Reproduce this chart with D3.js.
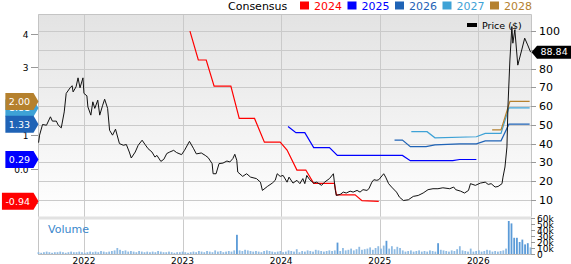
<!DOCTYPE html>
<html>
<head>
<meta charset="utf-8">
<script src="https://cdn.jsdelivr.net/npm/d3@7"></script>
<style>
  body { margin: 0; background: #fff; }
  svg { display: block; font-family: "DejaVu Sans", Verdana, sans-serif; }
</style>
</head>
<body>
<svg id="chart" width="571" height="264"></svg>
<script>
// price, [decimal year, $]
var price = [
  [2021.54,40.5],[2021.55,44.5],[2021.58,50.2],[2021.62,49.8],[2021.66,54.3],[2021.68,52.0],[2021.72,52.0],[2021.74,49.8],
  [2021.77,48.4],[2021.80,56.9],[2021.82,66.8],[2021.86,69.8],[2021.88,70.9],[2021.89,67.6],[2021.92,70.3],[2021.94,75.1],
  [2021.96,69.8],[2021.99,75.1],[2022.00,66.8],[2022.03,65.5],[2022.04,59.6],[2022.07,55.2],[2022.09,62.3],[2022.11,58.8],
  [2022.14,63.2],[2022.16,55.2],[2022.19,60.5],[2022.21,63.7],[2022.24,58.8],[2022.26,47.1],[2022.29,44.5],[2022.32,47.7],
  [2022.36,40.0],[2022.40,39.1],[2022.43,39.5],[2022.46,35.5],[2022.48,32.3],[2022.52,35.5],[2022.55,39.1],[2022.59,41.8],
  [2022.62,39.5],[2022.65,37.3],[2022.69,35.5],[2022.72,32.8],[2022.74,33.7],[2022.78,30.5],[2022.81,31.6],[2022.84,34.7],
  [2022.87,35.5],[2022.91,36.4],[2022.94,35.2],[2022.99,34.1],[2023.02,36.4],[2023.07,41.2],[2023.11,37.5],[2023.14,34.5],
  [2023.19,35.0],[2023.23,33.7],[2023.26,32.5],[2023.30,29.3],[2023.31,23.9],[2023.34,23.9],[2023.37,29.3],[2023.41,29.6],
  [2023.45,30.7],[2023.48,30.2],[2023.51,32.0],[2023.53,34.3],[2023.55,31.1],[2023.56,24.8],[2023.61,22.5],[2023.65,23.9],
  [2023.69,22.1],[2023.75,21.3],[2023.79,19.4],[2023.81,15.0],[2023.86,17.1],[2023.91,18.9],[2023.94,20.4],[2023.96,23.9],
  [2023.99,22.5],[2024.02,23.0],[2024.06,19.4],[2024.08,22.1],[2024.12,18.9],[2024.16,20.4],[2024.19,18.6],[2024.22,21.3],
  [2024.24,18.6],[2024.26,23.0],[2024.29,20.7],[2024.33,18.9],[2024.36,19.4],[2024.41,17.7],[2024.44,19.4],[2024.49,21.3],
  [2024.53,23.9],[2024.55,15.0],[2024.56,12.3],[2024.60,12.9],[2024.63,14.1],[2024.66,13.6],[2024.70,14.6],[2024.73,14.1],
  [2024.77,15.0],[2024.80,14.1],[2024.83,15.4],[2024.87,15.0],[2024.89,15.9],[2024.92,19.4],[2024.94,20.7],[2024.97,20.4],
  [2024.99,20.7],[2025.04,23.9],[2025.06,22.1],[2025.09,18.6],[2025.12,16.8],[2025.17,14.1],[2025.20,11.4],[2025.24,9.6],
  [2025.29,10.0],[2025.34,11.8],[2025.39,12.3],[2025.44,13.6],[2025.49,15.4],[2025.54,15.9],[2025.59,15.9],[2025.64,16.4],
  [2025.71,15.9],[2025.75,16.8],[2025.77,15.4],[2025.82,14.6],[2025.86,13.6],[2025.90,15.0],[2025.92,18.6],[2025.97,17.7],
  [2026.02,18.9],[2026.07,19.4],[2026.10,18.2],[2026.13,18.6],[2026.17,16.8],[2026.20,17.1],[2026.24,18.6],[2026.25,22.1],
  [2026.27,27.5],[2026.29,38.2],[2026.30,59.6],[2026.32,84.6],[2026.34,102.5],[2026.35,93.6],[2026.37,100.7],[2026.40,81.9],
  [2026.44,90.0],[2026.47,96.3],[2026.50,92.7],[2026.53,88.84]
];

// consensus EPS per fiscal year, [decimal year, eps]
var eps2024 = [[2023.075,4.07],[2023.16,3.22],[2023.24,3.22],[2023.32,2.45],[2023.49,2.45],[2023.575,1.50],[2023.73,1.50],
  [2023.83,0.80],[2023.99,0.80],[2024.06,0.57],[2024.16,-0.02],[2024.25,-0.02],[2024.33,-0.41],[2024.54,-0.41],
  [2024.56,-0.75],[2024.75,-0.75],[2024.82,-0.92],[2024.99,-0.94]];
var eps2025 = [[2024.07,1.26],[2024.15,1.08],[2024.24,1.08],[2024.33,0.64],[2024.49,0.64],[2024.57,0.41],[2025.23,0.41],
  [2025.31,0.255],[2025.74,0.255],[2025.81,0.29],[2025.98,0.29]];
var eps2026 = [[2025.15,0.86],[2025.23,0.86],[2025.31,0.67],[2025.47,0.67],[2025.56,0.72],[2025.81,0.75],[2025.98,0.75],
  [2026.07,0.84],[2026.23,0.84],[2026.31,1.33],[2026.52,1.33]];
var eps2027 = [[2025.32,1.11],[2025.48,1.11],[2025.56,0.93],[2025.98,0.96],[2026.07,1.06],[2026.23,1.06],[2026.31,1.81],[2026.52,1.81]];
var eps2028 = [[2026.14,1.16],[2026.23,1.16],[2026.32,2.00],[2026.52,2.00]];

var seriesYears = ["2024", "2025", "2026", "2027", "2028"];
var lastEps = { "2024": -0.94, "2025": 0.29, "2026": 1.33, "2027": 1.81, "2028": 2.00 };
var lastPrice = 88.84;

// volume (thousands), evenly spaced bars from volStart to volEnd
var volStart = 2021.54, volEnd = 2026.53;
var volume = [
  3,2,3,4,3,2,3,3,4,3, 2,3,4,3,3,4,3,2,3,4, 3,4,3,5,4,3,4,5,6,10, 7,5,6,4,5,4,3,5,4,3,
  4,3,4,3,5,4,3,3,4,3, 2,3,3,4,3,2,3,4,3,5, 4,3,5,4,3,6,4,5,3,4, 5,4,6,32,6,5,7,6,5,4,
  5,4,3,5,6,5,4,3,4,5, 3,4,6,5,4,8,3,5,4,6, 5,4,7,6,5,4,5,6,5,6, 19,5,10,6,7,9,6,8,12,7,
  8,9,11,7,10,13,9,14,22,9, 13,8,12,10,6,4,5,6,4,5, 6,4,5,4,6,5,4,18,7,6, 5,4,6,5,8,13,6,5,4,9,
  4,5,6,4,5,7,6,4,5,4, 5,6,9,55,51,27,27,20,24,16,18,11
];

var yearTicks = [2022, 2023, 2024, 2025, 2026];
var priceTicks = [10, 20, 30, 40, 50, 60, 70, 80, 90, 100];
var epsTicks = [4, 3, 2, 1, 0, -1];
var epsTickLabels = ["4", "3", "2", "1", "0.0", "-1"];
var volTicks = [0, 10, 20, 30, 40, 50, 60];

var colors = { "2024": "#ff0000", "2025": "#0000ff", "2026": "#1f63b6", "2027": "#3ea2d6", "2028": "#b5812e" };
var epsData = { "2024": eps2024, "2025": eps2025, "2026": eps2026, "2027": eps2027, "2028": eps2028 };

var L = 38, R = 531, T = 14, B = 218.5, VB = 254;

var x = d3.scaleLinear().domain([2021.534, 2026.534]).range([L, R]);
var yP = d3.scaleLinear().domain([0, 109.2]).range([B, T]);
var yE = d3.scaleLinear().domain([-0.94, 4]).range([201.3, 33.5]);
var yV = d3.scaleLinear().domain([0, 60]).range([VB, 218]);

var svg = d3.select("#chart");

var defs = svg.append("defs");
var grad = defs.append("linearGradient").attr("id", "bg").attr("x1", 0).attr("y1", 0).attr("x2", 0).attr("y2", 1);
grad.append("stop").attr("offset", "0%").attr("stop-color", "#e3e3e3");
grad.append("stop").attr("offset", "100%").attr("stop-color", "#ffffff");
defs.append("clipPath").attr("id", "clip").append("rect")
  .attr("x", L).attr("y", T).attr("width", R - L).attr("height", B - T);

svg.append("rect").attr("x", L).attr("y", T).attr("width", R - L).attr("height", B - T).attr("fill", "url(#bg)");

// grid
svg.append("g").selectAll("line").data(priceTicks).enter().append("line")
  .attr("x1", L).attr("x2", R)
  .attr("y1", function(d) { return Math.round(yP(d)) + 0.5; })
  .attr("y2", function(d) { return Math.round(yP(d)) + 0.5; })
  .attr("stroke", "#cacaca");
svg.append("g").selectAll("line").data(yearTicks).enter().append("line")
  .attr("x1", function(d) { return Math.round(x(d)) + 0.5; })
  .attr("x2", function(d) { return Math.round(x(d)) + 0.5; })
  .attr("y1", T).attr("y2", VB)
  .attr("stroke", "#cacaca");

// frame
svg.append("path").attr("d", "M" + (L + 0.5) + "," + VB + "V" + (T + 0.5) + "H" + (R + 0.5) + "V" + VB)
  .attr("fill", "none").attr("stroke", "#c4c4c4");
svg.append("line").attr("x1", L).attr("x2", R + 1).attr("y1", VB + 0.5).attr("y2", VB + 0.5).attr("stroke", "#bbb");
svg.append("rect").attr("x", L).attr("y", 216.5).attr("width", R - L + 1).attr("height", 3).attr("fill", "#e2e2e2");

// volume bars
var volStep = (volEnd - volStart) / (volume.length - 1);
svg.append("g").selectAll("rect").data(volume).enter().append("rect")
  .attr("x", function(d, i) { return x(volStart + i * volStep) - 1; })
  .attr("width", 1.8)
  .attr("y", function(d) { return yV(d); })
  .attr("height", function(d) { return VB - yV(d); })
  .attr("fill", function(d) { return d >= 15 ? "#5b9bd8" : "#8fbbe3"; });

svg.append("text").attr("x", 48).attr("y", 233).attr("font-size", 11).attr("fill", "#3a87cc").text("Volume");

// lines
var plot = svg.append("g").attr("clip-path", "url(#clip)");
var epsLine = d3.line().x(function(d) { return x(d[0]); }).y(function(d) { return yE(d[1]); });
seriesYears.forEach(function(k) {
  plot.append("path").attr("d", epsLine(epsData[k]))
    .attr("fill", "none").attr("stroke", colors[k]).attr("stroke-width", 1.2);
});
var priceLine = d3.line().x(function(d) { return x(d[0]); }).y(function(d) { return yP(d[1]); });
plot.append("path").attr("d", priceLine(price))
  .attr("fill", "none").attr("stroke", "#111").attr("stroke-width", 1);

// left axis (EPS)
var la = svg.append("g");
epsTicks.forEach(function(v, i) {
  var y = Math.round(yE(v)) + 0.5;
  la.append("line").attr("x1", 31).attr("x2", L).attr("y1", y).attr("y2", y).attr("stroke", "#999");
  la.append("text").attr("x", 28.5).attr("y", y).attr("dy", "0.35em").attr("text-anchor", "end")
    .attr("font-size", 9).attr("fill", "#000").text(epsTickLabels[i]);
});

// right axis (price)
var ra = svg.append("g");
priceTicks.forEach(function(v) {
  var y = Math.round(yP(v)) + 0.5;
  ra.append("line").attr("x1", R).attr("x2", R + 5).attr("y1", y).attr("y2", y).attr("stroke", "#999");
  ra.append("text").attr("x", 539).attr("y", y).attr("dy", "0.36em")
    .attr("font-size", 11).attr("fill", "#000").text(v);
});
volTicks.forEach(function(v) {
  var y = Math.round(yV(v)) + 0.5;
  ra.append("line").attr("x1", R).attr("x2", R + 4).attr("y1", y).attr("y2", y).attr("stroke", "#999");
  ra.append("text").attr("x", 537).attr("y", y).attr("dy", "0.36em")
    .attr("font-size", 9).attr("fill", "#000").text(v === 0 ? "0" : v + "k");
});

// x axis labels
svg.append("g").selectAll("text").data(yearTicks).enter().append("text")
  .attr("x", function(d) { return x(d); }).attr("y", 263.5)
  .attr("text-anchor", "middle").attr("font-size", 9).attr("fill", "#000")
  .text(function(d) { return d; });

// left value tags
["2027", "2028", "2026", "2025", "2024"].forEach(function(k) {
  var y = yE(lastEps[k]);
  var g = svg.append("g");
  var p = g.append("path").attr("fill", colors[k]);
  var t = g.append("text").attr("y", y).attr("dy", "0.35em").attr("font-size", 9.5)
    .attr("fill", "#fff").text(lastEps[k].toFixed(2));
  var w = t.node().getComputedTextLength();
  var right = 33.5, left = Math.max(0, right - w - 7);
  t.attr("x", left + 3.5);
  p.attr("d", "M" + left + "," + (y - 8.5) + "H" + right + "L38.5," + y + "L" + right + "," + (y + 8.5) + "H" + left + "Z");
});

// right price tag
(function() {
  var y = yP(lastPrice);
  svg.append("path").attr("fill", "#000")
    .attr("d", "M531.5," + y + "L537," + (y - 6.5) + "H571V" + (y + 6.5) + "H537Z");
  svg.append("text").attr("x", 540.5).attr("y", y).attr("dy", "0.35em").attr("font-size", 9.5)
    .attr("fill", "#fff").text(lastPrice.toFixed(2));
})();

// legends
svg.append("text").attr("x", 228).attr("y", 9.5).attr("font-size", 11).attr("fill", "#000").text("Consensus");
seriesYears.forEach(function(k, i) {
  var lx = 300 + i * 47.5;
  svg.append("rect").attr("x", lx).attr("y", 1.5).attr("width", 9).attr("height", 8).attr("fill", colors[k]);
  svg.append("text").attr("x", lx + 14).attr("y", 9.5).attr("font-size", 11).attr("fill", colors[k]).text(k);
});
svg.append("rect").attr("x", 467).attr("y", 23).attr("width", 10).attr("height", 4).attr("fill", "#000");
svg.append("text").attr("x", 482).attr("y", 28.5).attr("font-size", 9.5).attr("fill", "#000").text("Price ($)");
</script>
</body>
</html>
